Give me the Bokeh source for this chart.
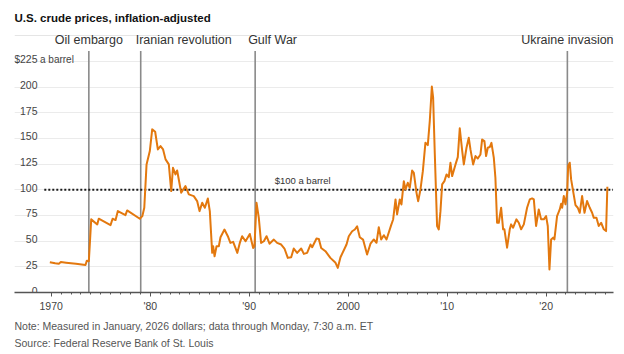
from bokeh.plotting import figure
from bokeh.models import FixedTicker, Title, Range1d, Grid, ColumnDataSource
from bokeh.core.properties import value
from bokeh.embed import file_html
from bokeh.resources import INLINE

# ---------------- data ----------------
years = [1969.86, 1970.4, 1970.77, 1970.97, 1971.5, 1972.5, 1973.46, 1973.6, 1973.8,
         1974.04, 1974.65, 1974.8, 1975.99, 1976.2, 1976.5, 1976.73, 1977.5, 1977.67,
         1978.95, 1979.2, 1979.4, 1979.63, 1979.96, 1980.2, 1980.5, 1980.77, 1981.04,
         1981.3, 1981.55, 1981.88, 1982.12, 1982.3, 1982.55, 1982.72, 1983.13, 1983.56,
         1983.9, 1984.4, 1984.74, 1984.98, 1985.25, 1985.52, 1985.82, 1986.02, 1986.26,
         1986.36, 1986.5, 1986.7, 1986.93, 1987.1, 1987.5, 1987.84, 1988.1, 1988.38,
         1988.8, 1989.05, 1989.29, 1989.63, 1990.06, 1990.4, 1990.53, 1990.74, 1990.97,
         1991.2, 1991.48, 1991.75, 1992.05, 1992.49, 1992.82, 1993.23, 1993.56, 1993.9,
         1994.24, 1994.5, 1994.84, 1995.25, 1995.52, 1995.85, 1996.19, 1996.36, 1996.8,
         1997.03, 1997.27, 1997.7, 1998.2, 1998.72, 1998.95, 1999.22, 1999.83, 2000.06,
         2000.4, 2000.67, 2000.9, 2001.17, 2001.5, 2001.91, 2002.25, 2002.59, 2002.86,
         2003.09, 2003.33, 2003.6, 2003.87, 2004.34, 2004.54, 2004.78, 2004.94, 2005.21,
         2005.38, 2005.62, 2005.79, 2006.02, 2006.22, 2006.46, 2006.63, 2006.9, 2007.07,
         2007.3, 2007.54, 2007.8, 2008.04, 2008.24, 2008.45, 2008.58, 2008.75, 2008.98,
         2009.15, 2009.32, 2009.49, 2009.72, 2009.93, 2010.16, 2010.33, 2010.5, 2010.84,
         2011.07, 2011.27, 2011.51, 2011.68, 2011.95, 2012.18, 2012.35, 2012.62, 2012.86,
         2013.09, 2013.36, 2013.53, 2013.76, 2013.93, 2014.1, 2014.3, 2014.47, 2014.71,
         2014.87, 2015.04, 2015.21, 2015.45, 2015.65, 2015.78, 2016.05, 2016.32, 2016.46,
         2016.66, 2016.99, 2017.23, 2017.47, 2017.74, 2018.07, 2018.34, 2018.58, 2018.75,
         2018.98, 2019.25, 2019.49, 2019.76, 2019.99, 2020.16, 2020.33, 2020.5, 2020.7,
         2020.83, 2021.1, 2021.37, 2021.51, 2021.61, 2021.78, 2021.95, 2022.12, 2022.22,
         2022.38, 2022.52, 2022.72, 2022.96, 2023.19, 2023.39, 2023.63, 2023.87, 2024.13,
         2024.4, 2024.64, 2024.81, 2025.08, 2025.31, 2025.55, 2025.82, 2026.05, 2026.18]
prices = [29.5, 28.5, 28.0, 29.6, 29.0, 28.0, 26.7, 31.0, 30.5,
          71.2, 66.3, 71.8, 65.6, 71.8, 70.5, 79.3, 75.3, 79.9,
          71.8, 74.3, 82.5, 124.7, 137.7, 158.8, 156.5, 139.3, 142.5,
          139.3, 129.6, 124.7, 98.7, 121.4, 114.9, 118.8, 97.1, 103.6,
          95.5, 93.8, 89.0, 79.2, 87.3, 82.5, 91.5, 79.2, 38.6,
          45.0, 35.3, 45.0, 45.0, 53.8, 61.3, 54.8, 48.3, 49.3,
          38.6, 48.3, 54.8, 49.9, 57.0, 43.4, 45.0, 87.3, 72.7,
          48.3, 49.9, 54.8, 47.5, 51.5, 48.3, 46.7, 42.8, 33.7,
          34.3, 42.8, 38.6, 42.8, 37.6, 38.6, 46.7, 44.1, 52.6,
          52.2, 43.4, 40.2, 33.7, 28.9, 24.0, 34.3, 46.7, 54.8,
          59.6, 61.3, 64.5, 53.8, 51.5, 37.0, 47.5, 51.6, 48.4,
          63.6, 51.6, 55.8, 51.6, 65.6, 71.1, 90.6, 76.0, 90.6,
          85.7, 108.4, 100.3, 106.8, 101.9, 118.8, 116.5, 97.0, 88.9,
          100.3, 118.1, 145.7, 143.5, 166.9, 200.5, 189.6, 134.4, 64.6,
          61.4, 79.2, 105.2, 108.4, 114.9, 112.3, 126.3, 113.3, 124.7,
          131.8, 159.8, 138.3, 124.7, 140.9, 150.6, 139.3, 124.7, 132.8,
          130.5, 134.4, 149.0, 147.4, 132.8, 140.9, 141.6, 145.7, 131.1,
          111.7, 67.9, 67.9, 82.5, 61.5, 61.5, 43.6, 61.5, 66.3,
          63.1, 71.2, 67.9, 61.5, 66.3, 82.5, 90.6, 91.6, 90.6,
          64.7, 80.9, 71.2, 71.2, 74.4, 64.7, 22.5, 51.7, 53.4,
          51.7, 74.4, 80.9, 86.4, 82.5, 93.9, 85.8, 97.1, 123.1,
          126.3, 110.1, 98.7, 85.1, 82.5, 77.6, 93.9, 77.6, 89.0,
          82.5, 77.6, 72.7, 72.7, 64.7, 67.9, 61.5, 59.8, 103.0]

y_ticks = [0, 25, 50, 75, 100, 125, 150, 175, 200, 225]
y_tick_labels = ["0", "25", "50", "75", "100", "125", "150", "175", "200", "$225"]
y_unit_label = "a barrel"
x_ticks = [1970, 1980, 1990, 2000, 2010, 2020]
x_tick_labels = ["1970", "'80", "'90", "2000", "'10", "'20"]
x_minor_ticks = list(range(1970, 2027))

events = ["Oil embargo", "Iranian revolution", "Gulf War", "Ukraine invasion"]
event_years = [1973.8, 1979.04, 1990.6, 2022.14]

ref_level = 100
ref_label = "$100 a barrel"
ref_label_year = 1995.4
ref_start, ref_end = 1969.3, 2026.75

title_text = "U.S. crude prices, inflation-adjusted"
note_text = "Note: Measured in January, 2026 dollars; data through Monday, 7:30 a.m. ET"
source_text = "Source: Federal Reserve Bank of St. Louis"

# ---------------- style ----------------
ORANGE = "#e3780e"
FONT = "Liberation Sans"
X0, X1 = 1966.29, 2026.80
Y1 = 257.0
EVENT_TOP = 235
EVENT_LABEL_Y = 245.5

p = figure(width=624, height=354, output_backend="svg", toolbar_location=None,
           x_range=Range1d(X0, X1), y_range=Range1d(0, Y1),
           y_axis_location=None, min_border_left=14, min_border_right=11,
           min_border_top=28, min_border_bottom=62)
p.outline_line_color = None
p.xgrid.visible = False
p.background_fill_color = "white"
p.border_fill_color = "white"

p.add_layout(Grid(dimension=1, ticker=FixedTicker(ticks=y_ticks[1:]),
                  grid_line_color="#ebebeb", grid_line_width=1.2))

# title
p.title.text = title_text
p.title.text_font = FONT
p.title.text_font_style = "bold"
p.title.text_font_size = "11.5px"
p.title.text_color = "#111111"
p.title.align = "left"
p.title.standoff = 10

# x axis
ax = p.xaxis[0]
ax.ticker = FixedTicker(ticks=x_ticks, minor_ticks=x_minor_ticks)
ax.major_label_overrides = {t: l for t, l in zip(x_ticks, x_tick_labels)}
ax.axis_line_color = "#555555"
ax.axis_line_width = 1.3
ax.major_tick_line_color = "#555555"
ax.minor_tick_line_color = "#555555"
ax.major_tick_in = 0
ax.major_tick_out = 4
ax.minor_tick_in = 0
ax.minor_tick_out = 2
ax.major_label_standoff = 3
ax.major_label_text_font = FONT
ax.major_label_text_font_size = "10.5px"
ax.major_label_text_color = "#444444"

# y labels inside plot
ysrc = ColumnDataSource(dict(x=[X0] * len(y_ticks), y=y_ticks, t=y_tick_labels))
p.text(x="x", y="y", text="t", source=ysrc, x_offset=23, y_offset=-2,
       text_align="right", text_baseline="alphabetic", text_font=value(FONT),
       text_font_size="10.5px", text_color="#444444")
p.text(x=[X0], y=[y_ticks[-1]], text=[y_unit_label], x_offset=25.5, y_offset=-2,
       text_align="left", text_baseline="alphabetic", text_font=value(FONT),
       text_font_size="10px", text_color="#444444")

# event lines
p.segment(x0=event_years, y0=[0] * len(events), x1=event_years,
          y1=[EVENT_TOP] * len(events), line_color="#8a8a8a", line_width=1.6)
esrc = ColumnDataSource(dict(x=event_years, y=[EVENT_LABEL_Y] * len(events), t=events,
                             align=["center", "left", "left", "center"],
                             dx=[0, -5, -7, 0]))
p.text(x="x", y="y", text="t", source=esrc, x_offset="dx", text_align="align",
       text_baseline="middle", text_font=value(FONT), text_font_size="12.5px",
       text_color="#333333")

# reference line
p.line([ref_start, ref_end], [ref_level, ref_level], line_color="#1a1a1a",
       line_width=2, line_dash="2 2")
p.text(x=[ref_label_year], y=[ref_level], text=[ref_label], y_offset=-4,
       text_align="center", text_baseline="bottom", text_font=value(FONT),
       text_font_size="9.5px", text_color="#333333")

# price line
p.line(years, prices, line_color=ORANGE, line_width=2, line_join="round")

# footer
for txt, so in [(note_text, 6), (source_text, 0)]:
    p.add_layout(Title(text=txt, text_font=FONT, text_font_size="10.5px",
                       text_font_style="normal", text_color="#555555",
                       align="left", standoff=so), "below")

open("out.html", "w").write(file_html(p, INLINE))
